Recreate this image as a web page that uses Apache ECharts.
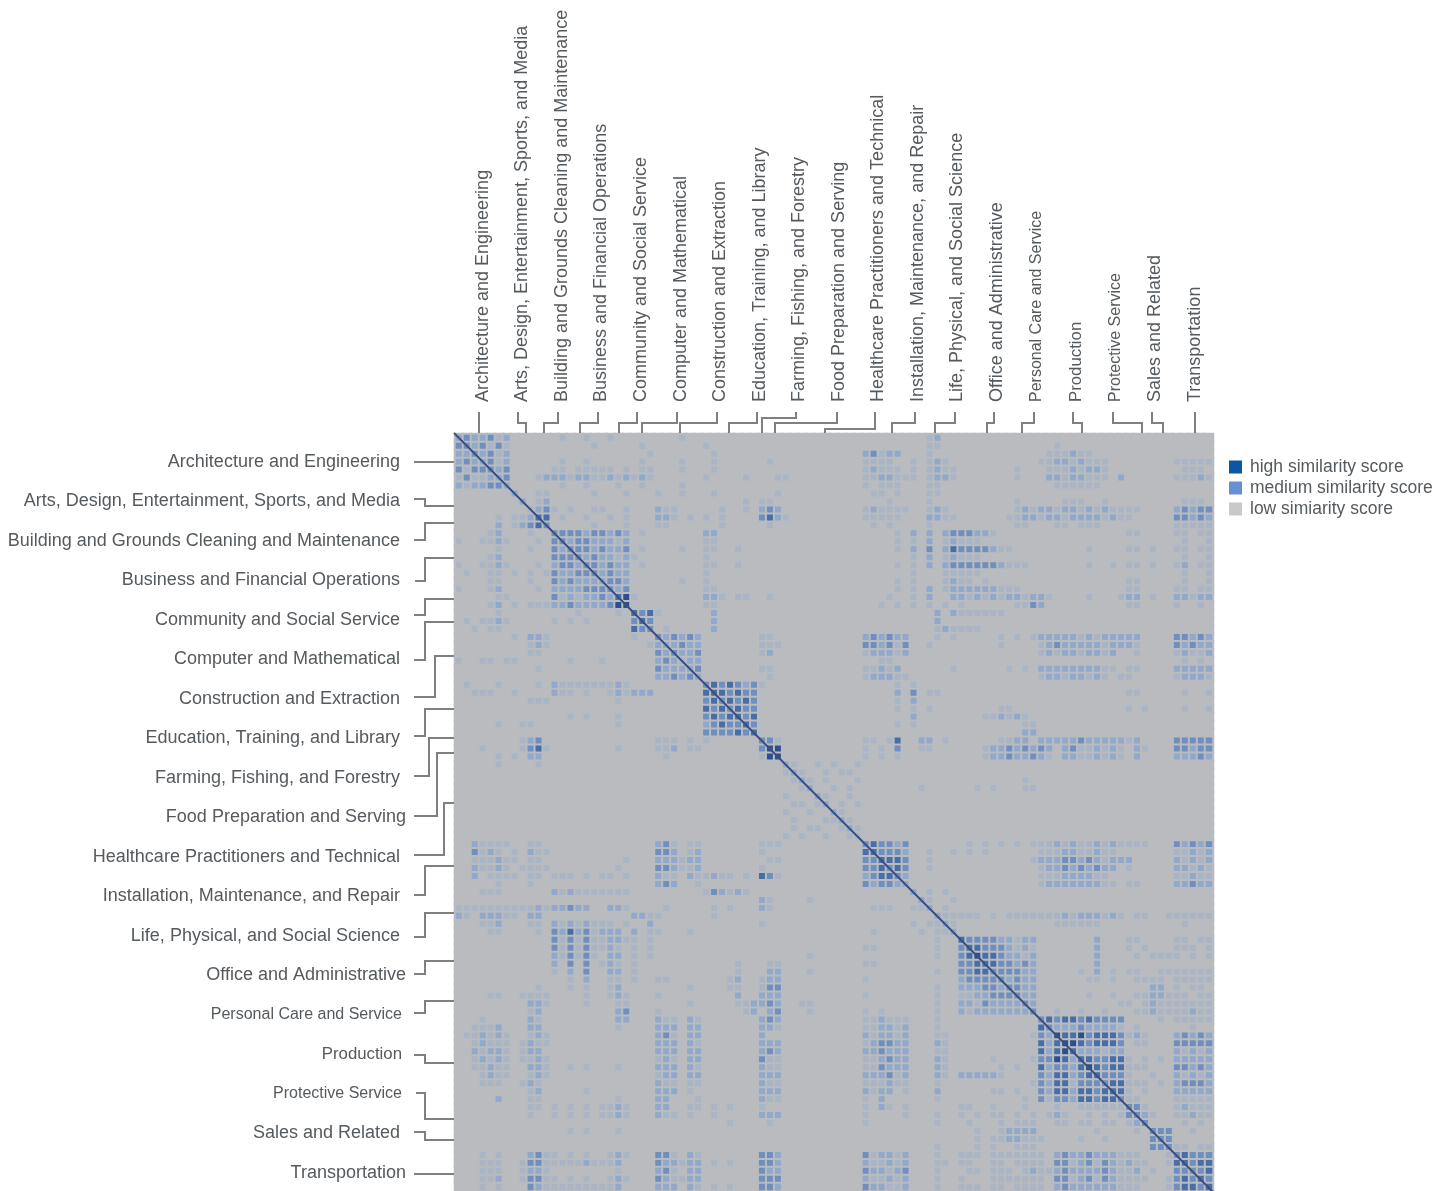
<!DOCTYPE html>
<html><head><meta charset="utf-8"><title>Occupation similarity matrix</title>
<style>html,body{margin:0;padding:0;background:#fff;overflow:hidden}#c{width:1451px;height:1191px}</style>
<script src="https://cdn.jsdelivr.net/npm/echarts@6/dist/echarts.min.js"></script></head>
<body><div id="c"></div>
<script>
const occupationGroups = ["Architecture and Engineering","Arts, Design, Entertainment, Sports, and Media","Building and Grounds Cleaning and Maintenance","Business and Financial Operations","Community and Social Service","Computer and Mathematical","Construction and Extraction","Education, Training, and Library","Farming, Fishing, and Forestry","Food Preparation and Serving","Healthcare Practitioners and Technical","Installation, Maintenance, and Repair","Life, Physical, and Social Science","Office and Administrative","Personal Care and Service","Production","Protective Service","Sales and Related","Transportation"];
const legendNames = ["high similarity score","medium similarity score","low simiarity score"];
// similarity level (0 low .. 5 high) estimated per matrix cell; upper triangle, each row starts at its diagonal cell
const similarityUpper = [
"2322312 00000 0100100100 000 000100 0000000 000 0000000000 000000 001200",
"323131 00000 0000010000 010 000000 1000000 000 0000000000 000000 001100 0000000000 00100000000",
"32312 00000 0000000000 001 000000 0100000 000 0000000000 231220 001000 0000000000 01112110000",
"2312 00000 0100100000 010 000100 0100000 010 0000000000 111100 101210 0000000000 11221211100 000 000 11111",
"323 00000 1101111101 011 000100 0100000 000 0000000000 121110 101211 0000000100 01112122100 000 000 01110",
"23 00012 2212211212 121 000000 1000010 001 1000000000 112211 101221 0000000100 02212211102 000 000 11121",
"2 00000 0100100010 010 000100 0000000 000 0000000000 101110 001100 0000000000 00111111000",
"20011 0000010001 000 100100 0100000 001 0000000000 011010 001100",
"2012 0000000000 000 000000 0000010 110 0000000000 000100 001000 0000000100 00011100100 000 000 01110",
"123 1010011001 000 211000 0010010 232 0000000000 121111 001210 0000000121 22122121211 110 000 23233",
"44 0100100101 000 221010 1010000 342 1000000000 111110 002211 0000001122 12212222121 100 000 33232",
"3 0000010001 000 110000 0010000 010 0000000000 010100 001000 0000000110 00110111000 000 000 11111",
"3333233232 010 000000 2200000 000 0000000000 000010 202023 3322100000 00000000000 110 000 11011",
"323322212 000 000000 1100000 000 0000000000 000010 102012 1110000000 00000000000 000 000 01001",
"33323223 010 000100 1100100 000 0000000000 000010 203024 3333211000 00000010000 110 100 11011",
"3232212 100 000000 1000000 000 0000000000 000000 102012 1110000000 00000000000 000 000 01001",
"332322 010 000000 1100100 000 0000000000 000010 102023 3333321110 00000010010 110 100 12011",
"32322 000 000000 1000000 000 0000000000 000000 100011 1110000000 00000000000 000 000 01001",
"2332 000 000100 1000000 000 0000000000 000010 100012 1101000000 00000000000 110 000 01001",
"323 000 000000 1100000 000 0000000000 000010 102012 2222211100 00000000000 110 000 11011",
"45 100 000000 2210110 010 0000000000 000100 102002 2121212212 21000010001 220 100 22122",
"5 000 000000 1100000 000 0000000000 001010 101010 1000000113 20000000000 110 000 10010",
"434 100000 0200000 000 0000000000 000000 000202 1111110000",
"43 000000 0200000 000 0000000000 000000 000200",
"3 010000 0200000 000 0000000000 000000 000121 1110000000",
"323232 0000000 110 0000000000 232322 000101 0000010101 22222121222 220 000 33232",
"22322 0000000 111 0000000000 332313 001000 0000010000 12322222122 210 000 32322",
"3223 0000000 120 0000000000 122212 000000 0000000000 12122122120 010 000 12112",
"122 0000000 000 0000000000 001100 000000 0000000000 00000000000 000 000 01010",
"23 0000000 110 0000000000 112120 000001 0000001010 22222222110 110 000 22222",
"2 0000000 010 0000000000 122211 000000 0000000000 12212212101 100 000 12221",
"3434323 100 0000000000 000010 100000",
"443433 000 0000000000 000020 301100 0000000000 00000000000 110 000 01001",
"34343 000 0000000000 000010 200000",
"3433 000 0000000000 000010 101000 0000011000 00000000000 101 000 01001",
"434 000 0000000000 000000 200000 0001121210",
"43 000 0000000000 000010 100000 0000000011",
"4 000 0000000000 000000 000000 0000000022",
"331 0000000000 110140 022010 0000011220 22222322222 120 000 33333",
"55 0000000000 101030 011000 0001223232 32023112121 021 000 33233",
"5 0000000000 101010 000000 0001223223 21022112121 020 000 22232",
"2100101001",
"210010110",
"21010001 000000 000000 0000000010",
"2001010 000000 010000 0010100011",
"210010",
"20101",
"2100",
"210",
"21",
"1",
"343323 000000 0101010101 11212112121 111 000 32323",
"43332 001001 0101000000 11122112110 000 000 11212",
"4443 001000 0000000001 22233232122 200 000 21212",
"343 001000 0000000000 12232323220 100 000 22121",
"32 000000 0000000000 11122221100 000 000 11211",
"2 000000 0000000000 12222222110 110 000 22322",
"201010",
"21001",
"2010",
"211 1110101111 11121222121 011 001 11111",
"21 0000000000 00111111000 000 000 01000",
"2",
"4333322122 00000002000 110 000 11011",
"443332121 00000002000 101 000 11101",
"54432212 00000002000 010 111 10101",
"4433232 00000002000",
"333322 00000102010 110 011 11111",
"32322 00000011010 011 110 11111",
"3322 00000000000 000 220 10110",
"322 00000010010 011 221 11011",
"32 00000000001 101 211 11111",
"3 00100100100 011 211 11211",
"34344343333 000 010 11111",
"3222322221 010 000 00100",
"544534443 121 000 23232",
"55434443 011 000 33333",
"4222122 000 000 21212",
"443344 101 010 22222",
"54344 111 000 33232",
"4333 100 100 21212",
"344 111 010 23332",
"44 101 000 22222",
"3 110 000 11111",
"331 000 12111",
"32 100 11211",
"3 000 01010",
"333 00100",
"33 00000",
"3 11011",
"34333",
"4344",
"334",
"43",
"4"
];
const levelColors = ["#b9bbbf","#a9b5c5","#8fa8cb","#6f8fc0","#476ea9","#2c4f8c"];
const legendColors = ["#0b57a3","#6690cf","#c9c9c9"];
// layout of the elbow connectors, in page units
const leftConnectors = [[414,462,414,462],[414,499,425,506],[414,540,425,523],[415,581,425,558],[414,615,425,599],[414,660,425,622],[414,697,435,656],[414,736,425,709],[414,776,429,738],[414,816,437,753],[414,855,444,803],[414,895,425,866],[414,937,425,913],[414,974,425,961],[414,1013,425,1001],[414,1055,425,1063],[416,1093,425,1119],[414,1132,425,1140],[414,1174,414,1174]];
const topConnectors = [[479,423,479],[518,423,526],[558,423,544],[598,423,580],[637,423,619],[677,423,642],[717,423,680],[757,423,729],[796,418,762],[837,423,775],[875,429,825],[915,423,892],[955,423,935],[994,423,987],[1034,423,1022],[1073,423,1082],[1113,423,1142],[1152,423,1163],[1195,423,1195]];
const narrowLabels = {"Personal Care and Service":16,"Production":16.8,"Protective Service":16};
const flushLabels = ["Food Preparation and Serving","Office and Administrative","Transportation"];

const n = similarityUpper.length;
const idx = Array.from({length:n},(_,i)=>i);
const cells = [];
const level = idx.map(()=>idx.map(()=>0));
similarityUpper.forEach((s,i)=>{
  const r = s.replace(/\s/g,'');
  for(let k=0;k<r.length && i+k<n;k++){ level[i][i+k]=+r[k]; level[i+k][i]=+r[k]; }
});
idx.forEach(i=>idx.forEach(j=>cells.push([j,i,level[i][j]])));

const font = '"Liberation Sans", Arial, sans-serif';
const textColor = '#555a5e';
const leftData = occupationGroups.map(name=>{
  const narrow = narrowLabels[name];
  const pad = flushLabels.includes(name) ? 0 : (narrow ? 4 : 6);
  return {value:name,textStyle:{fontSize:narrow||18,padding:[0,pad,0,0]}};
});
const topData = occupationGroups.map(name=>({value:name,textStyle:{fontSize:narrowLabels[name]||18}}));
const elbow = (pts)=>({type:'polyline',shape:{points:pts},style:{stroke:'#808080',lineWidth:2,fill:null},silent:true});
const px = {xAxisIndex:4,yAxisIndex:4};
const hiddenVal = (max,extra)=>Object.assign({type:'value',min:0,max:max,show:false},extra||{});

const option = {
  animation:false,
  backgroundColor:'#ffffff',
  textStyle:{fontFamily:font},
  grid:[
    {left:455,top:434,width:758,height:757},
    {left:406,top:462,width:40,height:711},
    {left:463,top:404,width:751.5,height:10},
    {left:454,top:433,width:760,height:758},
    {left:0,top:0,width:1451,height:1191}
  ],
  xAxis:[
    {type:'category',gridIndex:0,data:idx,show:false},
    {type:'value',gridIndex:1,show:false},
    {type:'category',gridIndex:2,position:'top',data:topData,axisLine:{show:false},axisTick:{show:false},
      axisLabel:{rotate:90,margin:2,interval:0,color:textColor,fontSize:18,fontFamily:font}},
    hiddenVal(n,{gridIndex:3}),
    hiddenVal(1451,{gridIndex:4})
  ],
  yAxis:[
    {type:'category',gridIndex:0,data:idx,inverse:true,show:false},
    {type:'category',gridIndex:1,inverse:true,boundaryGap:false,data:leftData,axisLine:{show:false},axisTick:{show:false},
      axisLabel:{margin:0,interval:0,color:textColor,fontSize:18,fontFamily:font}},
    {type:'value',gridIndex:2,show:false},
    hiddenVal(n*758/760,{gridIndex:3,inverse:true}),
    hiddenVal(1191,{gridIndex:4,inverse:true})
  ],
  visualMap:{show:false,type:'piecewise',seriesIndex:0,dimension:2,
    pieces:levelColors.map((c,v)=>({value:v,color:c}))},
  legend:{left:1229,top:458,orient:'vertical',padding:0,itemWidth:13,itemHeight:13,itemGap:3,selectedMode:false,
    icon:'rect',data:legendNames,
    textStyle:{color:textColor,fontSize:17.5,fontFamily:font,padding:[0,0,0,3]}},
  series:[
    {type:'heatmap',xAxisIndex:0,yAxisIndex:0,data:cells,progressive:0,emphasis:{disabled:true},silent:true,
      itemStyle:{borderWidth:2,borderColor:levelColors[0]}},
    {type:'line',name:'selfSimilarity',xAxisIndex:3,yAxisIndex:3,data:[[0,0],[n,n]],symbol:'none',silent:true,z:4,clip:true,
      lineStyle:{color:'#3a4f80',width:2}},
    {type:'custom',name:'leftConnectors',...px,data:leftConnectors,silent:true,z:5,renderItem:(p,api)=>{
      const [sx,sy,ex,ty]=[api.value(0),api.value(1),api.value(2),api.value(3)];
      return elbow([api.coord([sx,sy]),api.coord([ex,sy]),api.coord([ex,ty]),api.coord([454,ty])]);
    }},
    {type:'custom',name:'topConnectors',...px,data:topConnectors,silent:true,z:5,renderItem:(p,api)=>{
      const [sx,ey,tx]=[api.value(0),api.value(1),api.value(2)];
      return elbow([api.coord([sx,412]),api.coord([sx,ey]),api.coord([tx,ey]),api.coord([tx,433])]);
    }},
    ...legendNames.map((name,i)=>({type:'scatter',name,xAxisIndex:3,yAxisIndex:3,data:[],itemStyle:{color:legendColors[i],opacity:1}}))
  ]
};
const chart = echarts.init(document.getElementById('c'),null,{renderer:'canvas'});
chart.setOption(option);
</script></body></html>
